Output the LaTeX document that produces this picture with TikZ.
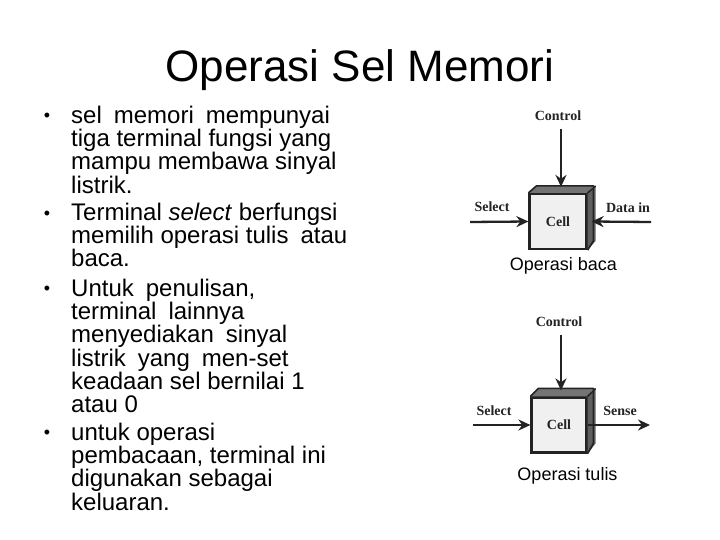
\documentclass[tikz,border=0pt]{standalone}
\usepackage{fontspec}
\setmainfont{Liberation Sans}
\newfontfamily\figfont{Liberation Serif}
\usetikzlibrary{arrows.meta}
\definecolor{facegray}{RGB}{240,240,240}
\definecolor{topgray}{RGB}{115,115,115}
\definecolor{sidegray}{RGB}{95,95,95}
\definecolor{inkgray}{RGB}{35,35,35}
\newcommand{\dsp}{\hspace{0.5em}}
\tikzset{
  cellbox/.style={draw=inkgray,line width=2.2pt,fill=facegray,minimum width=#1,minimum height=55pt,inner sep=0pt,
    font=\figfont\fontsize{14}{14}\selectfont\bfseries,text=inkgray},
  figlabel/.style={inner sep=0pt,font=\figfont\fontsize{14}{14}\selectfont\bfseries,text=inkgray},
  caption/.style={inner sep=0pt,font=\fontsize{18}{18}\selectfont},
  bullettext/.style={inner sep=0pt,anchor=north west,align=left,font=\fontsize{24}{23.2}\selectfont},
  bulletdot/.style={inner sep=0pt,anchor=base,font=\fontsize{18}{18}\selectfont},
  signal/.style={draw=inkgray,line width=2.3pt,-{Stealth[length=12pt,width=11pt]}},
}
\begin{document}
\begin{tikzpicture}[x=1pt,y=-1pt]
  \useasboundingbox (0,0) rectangle (720,540);
  \node[inner sep=0pt,font=\fontsize{44}{44}\selectfont] (title) at (360,70) {Operasi Sel Memori};
  % bullets
  \node[bulletdot] (dotA) at (47,122) {•};
  \node[bullettext] (textA) at (71,106) {sel\dsp memori\dsp mempunyai\\tiga terminal fungsi yang\\mampu membawa sinyal\\listrik.};
  \node[bulletdot] (dotB) at (47,219) {•};
  \node[bullettext] (textB) at (71,203) {Terminal \textit{select} berfungsi\\memilih operasi tulis\dsp atau\\baca.};
  \node[bulletdot] (dotC) at (47,294.5) {•};
  \node[bullettext] (textC) at (71,279) {Untuk\dsp penulisan,\\terminal\dsp lainnya\\menyediakan\dsp sinyal\\listrik\dsp yang\dsp men-set\\keadaan sel bernilai 1\\atau 0};
  \node[bulletdot] (dotD) at (47,438.5) {•};
  \node[bullettext] (textD) at (71,423) {untuk operasi\\pembacaan, terminal ini\\digunakan sebagai\\keluaran.};
  % upper cell
  \node[cellbox=57pt] (cellA) at (558,221.5) {Cell};
  \fill[topgray] (cellA.north west) -- ++(8,-7) -- ++(57,0) -- (cellA.north east) -- cycle;
  \fill[sidegray] (cellA.north east) -- ++(8,-7) -- ++(0,55) -- (cellA.south east) -- cycle;
  \draw[inkgray,line width=1.6pt,line join=round] (cellA.north west) -- ++(8,-7) -- ++(57,0) -- ++(0,55) -- (cellA.south east);
  \draw[inkgray,line width=1.6pt] (cellA.north east) -- ++(8,-7);
  \node[figlabel] (ctrlA) at (558,116) {Control};
  \node[figlabel] (selA) at (492,207) {Select};
  \node[figlabel] (dinA) at (628,208) {Data in};
  \node[caption] (capA) at (563.5,266) {Operasi baca};
  \coordinate (ctrlAstart) at (561,129);
  \coordinate (selAstart) at (470,222);
  \coordinate (dinAstart) at (651,222);
  \draw[signal] (ctrlAstart) -- ([shift={(3,-6)}]cellA.north);
  \draw[signal] (selAstart) -- (cellA.west);
  \draw[signal] (dinAstart) -- ([xshift=4pt]cellA.east);
  % lower cell
  \node[cellbox=55pt] (cellB) at (559,425) {Cell};
  \fill[topgray] (cellB.north west) -- ++(8,-8) -- ++(55,0) -- (cellB.north east) -- cycle;
  \fill[sidegray] (cellB.north east) -- ++(8,-8) -- ++(0,55) -- (cellB.south east) -- cycle;
  \draw[inkgray,line width=1.6pt,line join=round] (cellB.north west) -- ++(8,-8) -- ++(55,0) -- ++(0,55) -- (cellB.south east);
  \draw[inkgray,line width=1.6pt] (cellB.north east) -- ++(8,-8);
  \node[figlabel] (ctrlB) at (559,322) {Control};
  \node[figlabel] (selB) at (494,411) {Select};
  \node[figlabel] (senseB) at (620,411) {Sense};
  \node[caption] (capB) at (567.5,476) {Operasi tulis};
  \coordinate (ctrlBstart) at (561,335);
  \coordinate (selBstart) at (473,425);
  \coordinate (senseBend) at (650,425);
  \draw[signal] (ctrlBstart) -- ([shift={(2,-6)}]cellB.north);
  \draw[signal] (selBstart) -- (cellB.west);
  \draw[signal] (cellB.east) -- (senseBend);
\end{tikzpicture}
\end{document}
